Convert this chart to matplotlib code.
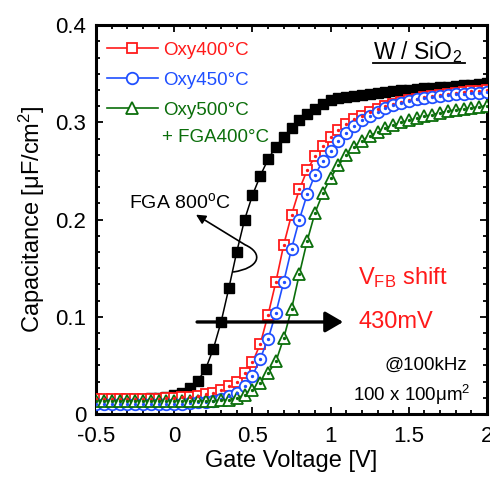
import matplotlib
matplotlib.use("Agg")
import matplotlib.pyplot as plt
from matplotlib.ticker import MultipleLocator
from matplotlib.path import Path
from matplotlib.patches import PathPatch

plt.rcParams["font.family"] = ["Liberation Sans", "DejaVu Sans"]
plt.rcParams["mathtext.fontset"] = "custom"
plt.rcParams["mathtext.rm"] = "Liberation Sans"
plt.rcParams["mathtext.it"] = "Liberation Sans:italic"
plt.rcParams["mathtext.bf"] = "Liberation Sans:bold"

# gate voltage sweep [V]
voltage = [-0.5, -0.45, -0.4, -0.35, -0.3, -0.25, -0.2, -0.15, -0.1, -0.05,
           0.0, 0.05, 0.1, 0.15, 0.2, 0.25, 0.3, 0.35, 0.4, 0.45,
           0.5, 0.55, 0.6, 0.65, 0.7, 0.75, 0.8, 0.85, 0.9, 0.95,
           1.0, 1.05, 1.1, 1.15, 1.2, 1.25, 1.3, 1.35, 1.4, 1.45,
           1.5, 1.55, 1.6, 1.65, 1.7, 1.75, 1.8, 1.85, 1.9, 1.95, 2.0]

# capacitance [uF/cm2]
c_fga800 = [0.014, 0.014, 0.0145, 0.0145, 0.015, 0.015, 0.0155, 0.016, 0.0165, 0.0175,
            0.019, 0.022, 0.027, 0.034, 0.046, 0.067, 0.095, 0.130, 0.167, 0.200,
            0.225, 0.245, 0.262, 0.275, 0.285, 0.294, 0.302, 0.309, 0.314, 0.319,
            0.323, 0.325, 0.326, 0.327, 0.328, 0.329, 0.330, 0.331, 0.332, 0.333,
            0.3335, 0.334, 0.335, 0.3355, 0.336, 0.3365, 0.337, 0.338, 0.3385, 0.339, 0.340]

c_oxy400 = [0.015, 0.015, 0.015, 0.015, 0.0152, 0.0152, 0.0153, 0.0155, 0.0157, 0.016,
            0.0163, 0.017, 0.0175, 0.0185, 0.020, 0.022, 0.025, 0.029, 0.033, 0.042,
            0.053, 0.072, 0.102, 0.136, 0.174, 0.205, 0.231, 0.251, 0.265, 0.276,
            0.285, 0.292, 0.298, 0.303, 0.307, 0.311, 0.314, 0.317, 0.319, 0.321,
            0.323, 0.3245, 0.326, 0.327, 0.328, 0.329, 0.330, 0.331, 0.332, 0.3325, 0.333]

c_oxy450 = [0.0098, 0.0098, 0.0098, 0.0098, 0.0099, 0.0099, 0.010, 0.010, 0.010, 0.0101,
            0.0102, 0.0105, 0.011, 0.012, 0.0125, 0.0135, 0.015, 0.018, 0.022, 0.029,
            0.039, 0.057, 0.077, 0.104, 0.136, 0.170, 0.200, 0.226, 0.246, 0.260,
            0.271, 0.281, 0.289, 0.296, 0.302, 0.307, 0.311, 0.315, 0.318, 0.320,
            0.322, 0.324, 0.3255, 0.3265, 0.3275, 0.3283, 0.329, 0.3295, 0.330, 0.3305, 0.331]

c_oxy500 = [0.0135, 0.0135, 0.0135, 0.0135, 0.0135, 0.0135, 0.0135, 0.0135, 0.0135, 0.0135,
            0.0135, 0.0135, 0.0135, 0.0135, 0.0135, 0.0137, 0.014, 0.0145, 0.0165, 0.0195,
            0.025, 0.032, 0.042, 0.054, 0.078, 0.108, 0.144, 0.178, 0.207, 0.227,
            0.243, 0.256, 0.266, 0.275, 0.281, 0.286, 0.290, 0.294, 0.297, 0.300,
            0.302, 0.304, 0.306, 0.308, 0.310, 0.3115, 0.313, 0.314, 0.315, 0.316, 0.317]

labels = ["Oxy400°C", "Oxy450°C", "Oxy500°C"]
xticks = [-0.5, 0, 0.5, 1, 1.5, 2]
xticklabels = ["-0.5", "0", "0.5", "1", "1.5", "2"]
yticks = [0, 0.1, 0.2, 0.3, 0.4]
yticklabels = ["0", "0.1", "0.2", "0.3", "0.4"]

red = "#ff1a1a"
blue = "#1f4fff"
green = "#0b6e0b"

fig = plt.figure(figsize=(4.9, 4.83), dpi=100)
ax = fig.add_axes([0.196, 0.143, 0.798, 0.805])

# FGA 800C reference
ax.plot(voltage, c_fga800, color="black", lw=1.1, marker="s", ms=7.8, mfc="black", mec="black", zorder=2)

series = [(c_oxy400, red, "s", 7.8), (c_oxy450, blue, "o", 8.3), (c_oxy500, green, "^", 8.8)]
for (c, col, mk, ms), lab in zip(series, labels):
    ax.plot(voltage, c, color=col, lw=1.2, marker=mk, ms=ms, mfc="white", mec=col, mew=1.3, label=lab, zorder=3)
    ax.plot(voltage, c, ls="none", marker="o", ms=1.4, mfc=col, mec=col, zorder=4)

ax.set_xlim(-0.5, 2.0)
ax.set_ylim(0, 0.4)
ax.set_xticks(xticks)
ax.set_xticklabels(xticklabels)
ax.set_yticks(yticks)
ax.set_yticklabels(yticklabels)
ax.xaxis.set_minor_locator(MultipleLocator(0.1))
ax.yaxis.set_minor_locator(MultipleLocator(0.1 / 6))
ax.tick_params(which="both", direction="in", top=True, right=True, width=1.3, labelsize=16)
ax.tick_params(axis="x", which="both", pad=9)
ax.tick_params(axis="y", which="both", pad=7)
ax.tick_params(which="major", length=5)
ax.tick_params(which="minor", length=3)
for s in ax.spines.values():
    s.set_linewidth(2.2)

ax.set_xlabel("Gate Voltage [V]", fontsize=17, labelpad=2)
ax.set_ylabel("Capacitance [μF/cm$^2$]", fontsize=17, labelpad=6)

leg = ax.legend(loc="upper left", bbox_to_anchor=(0.028, 0.957), frameon=False, fontsize=13.5,
                handlelength=2.72, handletextpad=0.27, labelspacing=0.68, borderpad=0, borderaxespad=0)
for t, col in zip(leg.get_texts(), [red, blue, green]):
    t.set_color(col)
ax.text(0.168, 0.712, "+ FGA400°C", color=green, fontsize=13.5, transform=ax.transAxes, va="center")

ax.text(0.708, 0.93, "W / SiO$_2$", fontsize=16.5, transform=ax.transAxes, va="center")
ax.plot([0.708, 0.944], [0.902, 0.902], color="black", lw=1.3, transform=ax.transAxes)

ax.text(0.084, 0.545, "FGA 800$^{\\rm o}$C", fontsize=14, transform=ax.transAxes, va="center")
ax.annotate("", xy=(0.139, 0.205), xytext=(0.453, 0.174),
            arrowprops=dict(arrowstyle="-|>", color="black", lw=1.2, mutation_scale=14, shrinkA=0, shrinkB=0))
loop = Path([(0.453, 0.174), (0.575, 0.165), (0.545, 0.150), (0.376, 0.146)],
            [Path.MOVETO, Path.CURVE4, Path.CURVE4, Path.CURVE4])
ax.add_patch(PathPatch(loop, fill=False, lw=1.2, color="black"))

ax.annotate("", xy=(1.08, 0.0946), xytext=(0.146, 0.0946),
            arrowprops=dict(arrowstyle="-|>,head_length=0.6,head_width=0.35", color="black", lw=2.4,
                            mutation_scale=18, shrinkA=0, shrinkB=0), zorder=5)

ax.text(0.67, 0.352, "V$_{\\rm FB}$ shift", color=red, fontsize=17, transform=ax.transAxes, va="center")
ax.text(0.67, 0.236, "430mV", color=red, fontsize=17, transform=ax.transAxes, va="center")
ax.text(0.949, 0.126, "@100kHz", fontsize=13.5, transform=ax.transAxes, va="center", ha="right")
ax.text(0.957, 0.049, "100 x 100μm$^2$", fontsize=13.5, transform=ax.transAxes, va="center", ha="right")

fig.savefig("out.png", dpi=100)
